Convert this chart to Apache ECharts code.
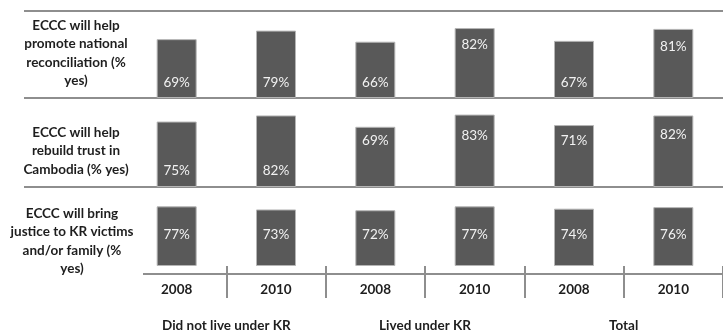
<!DOCTYPE html>
<html>
<head>
<meta charset="utf-8">
<script src="https://cdn.jsdelivr.net/npm/echarts@6/dist/echarts.min.js"></script>
<style>
  html, body { margin: 0; padding: 0; background: #fff; }
  #main { width: 723px; height: 333px; }
</style>
</head>
<body>
<div id="main"></div>
<script>
// 数据
const years = ['2008', '2010', '2008', '2010', '2008', '2010'];
const groups = ['Did not live under KR', 'Lived under KR', 'Total'];
const reconciliation = [69, 79, 66, 82, 67, 81];
const trust = [75, 82, 69, 83, 71, 82];
const justice = [77, 73, 72, 77, 74, 76];
const rowLabels = [
  'ECCC will help\npromote national\nreconciliation (%\nyes)',
  'ECCC will help\nrebuild trust in\nCambodia (% yes)',
  'ECCC will bring\njustice to KR victims\nand/or family (%\nyes)'
];

(function () {
  let font = 'Lato'
  let lineColor = '#8e8e8e'
  let textColor = '#1e1e1e'
  // 每行网格
  let grids = [
    { left: 127, width: 611, top: 11, height: 87 },
    { left: 127, width: 611, top: 98, height: 89 },
    { left: 127, width: 611, top: 187, height: 87 }
  ]
  // 标签离底部的高度（像素）
  let lifts = [
    [15, 15, 15, 53, 15, 51],
    [16, 16, 46, 51, 46, 52],
    [31, 31, 31, 31, 31, 31]
  ]
  let rows = [reconciliation, trust, justice]

  let xAxis = grids.map(function (g, i) {
    return {
      type: 'category',
      gridIndex: i,
      data: years,
      show: i === 2,
      axisLine: { show: false },
      axisTick: {
        show: i === 2,
        length: 32,
        interval: function (index) { return index !== 0 },
        lineStyle: { color: lineColor, width: 2 }
      },
      axisLabel: {
        show: i === 2,
        margin: 17,
        color: textColor,
        fontFamily: font,
        fontWeight: 'bold',
        fontSize: 13.5
      }
    }
  })
  // 分组轴
  xAxis.push({
    type: 'category',
    gridIndex: 2,
    data: groups,
    position: 'bottom',
    axisLine: { show: false },
    axisTick: {
      length: 70,
      interval: function (index) { return index !== 0 },
      lineStyle: { color: lineColor, width: 2 }
    },
    axisLabel: {
      margin: 53,
      color: textColor,
      fontFamily: font,
      fontWeight: 'bold',
      fontSize: 13.5
    }
  })

  let yAxis = grids.map(function (g, i) {
    return { type: 'value', gridIndex: i, min: 0, max: 102, show: false }
  })

  let series = rows.map(function (vals, i) {
    return {
      type: 'bar',
      xAxisIndex: i,
      yAxisIndex: i,
      barWidth: 40,
      itemStyle: { color: '#595959', borderColor: '#b5b5b5', borderWidth: 1 },
      data: vals.map(function (v, j) {
        return {
          value: v,
          label: {
            show: true,
            position: 'insideBottom',
            distance: lifts[i][j] - 7,
            formatter: '{c}%',
            color: '#f2f2f2',
            fontFamily: font,
            fontSize: 13.5
          }
        }
      })
    }
  })

  // 分隔线和行标题
  let graphic = []
  ;[11, 98, 187].forEach(function (y) {
    graphic.push({ type: 'line', shape: { x1: 24, y1: y, x2: 723, y2: y }, style: { stroke: lineColor, lineWidth: 2 }, z: 0 })
  })
  graphic.push({ type: 'line', shape: { x1: 143, y1: 274, x2: 723, y2: 274 }, style: { stroke: lineColor, lineWidth: 2 }, z: 0 })
  let labelCenters = [[76, 53], [76, 151], [72, 241]]
  rowLabels.forEach(function (t, i) {
    graphic.push({
      type: 'text',
      x: labelCenters[i][0],
      y: labelCenters[i][1],
      style: {
        text: t,
        fill: textColor,
        font: 'bold 13.5px Lato',
        lineHeight: 18.5,
        align: 'center',
        verticalAlign: 'middle'
      }
    })
  })

  let myChart = echarts.init(document.getElementById('main'))
  myChart.setOption({
    animation: false,
    grid: grids,
    xAxis: xAxis,
    yAxis: yAxis,
    series: series,
    graphic: graphic
  })
})();
</script>
</body>
</html>
